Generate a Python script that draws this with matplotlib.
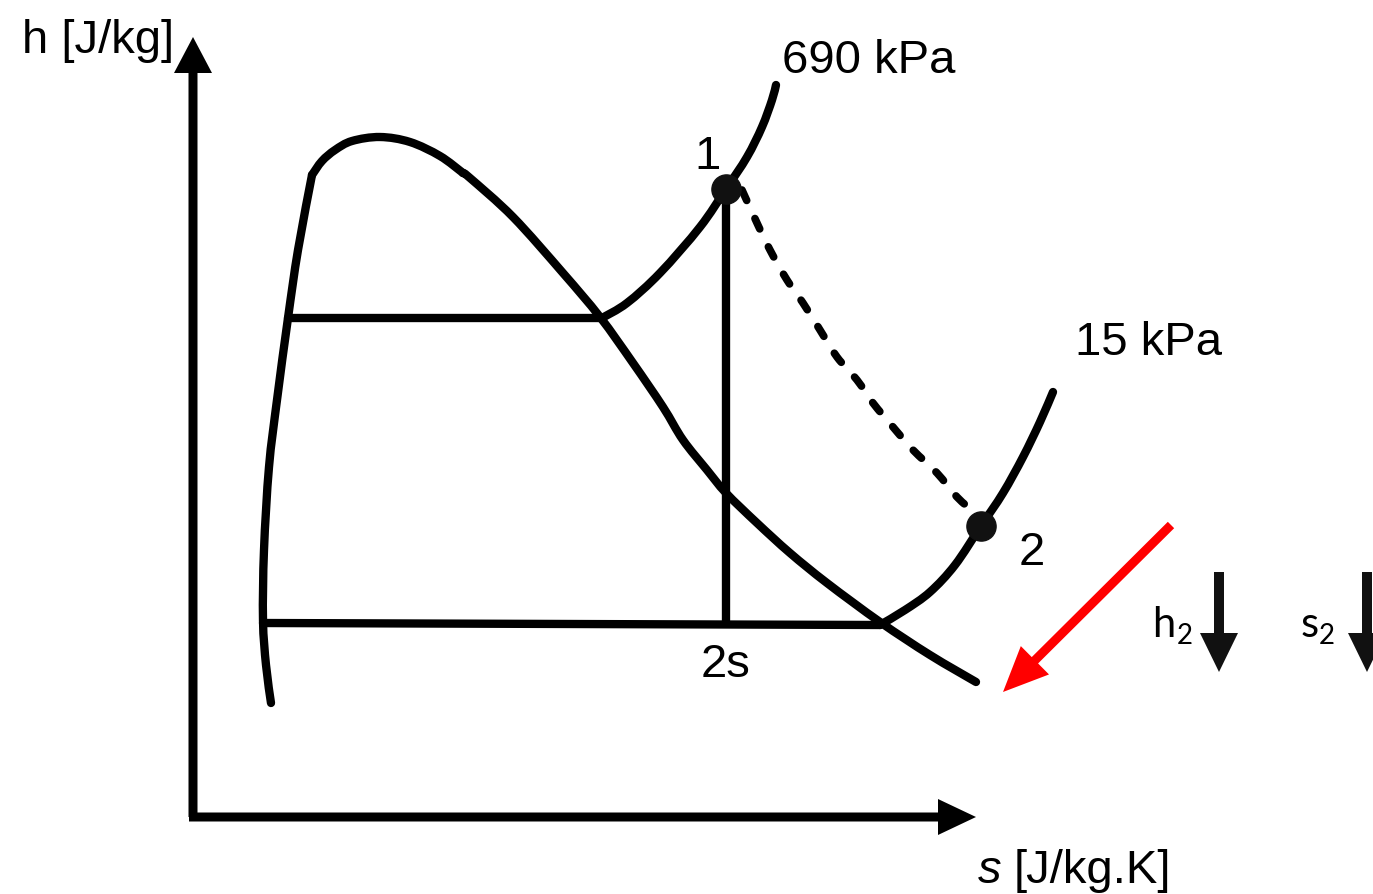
import matplotlib
matplotlib.use('Agg')
import matplotlib.pyplot as plt
import numpy as np
from matplotlib.path import Path
from matplotlib.patches import PathPatch

# h-s diagram, schematic, coordinates (pixel space, y downwards)
dome_left_s = [271, 266, 263, 264, 269, 277, 288, 298, 312]
dome_left_h = [703, 665, 620, 550, 467, 400, 318, 250, 175]
dome_top_s = [312, 322, 335, 352, 380, 410, 440, 463]
dome_top_h = [175, 161, 150, 141, 137, 142, 156, 173]
dome_right_s = [463, 470, 513, 563, 600, 633, 663, 683, 707, 726, 757, 790, 827, 880, 930, 976]
dome_right_h = [173, 178, 217, 273, 317, 363, 407, 440, 470, 493, 523, 553, 583, 622, 655, 682]

# 690 kPa: wet part then superheated part
hi_wet_s = [288, 602]
hi_wet_h = [318, 318]
hi_sup_s = [602, 627, 660, 700, 726, 747, 762, 772, 776]
hi_sup_h = [318, 303, 273, 227, 189, 157, 127, 100, 85]
# 15 kPa
lo_wet_s = [263, 880]
lo_wet_h = [623, 625]
lo_sup_s = [880, 905, 930, 955, 981, 1003, 1023, 1040, 1053]
lo_sup_h = [625, 610, 592, 565, 526, 493, 457, 422, 392]

isen_s = [726, 726]
isen_h = [189, 622]
real_s = [742, 757, 770, 787, 803, 820, 837, 857, 873, 893, 913, 937, 957, 975]
real_h = [190, 223, 250, 280, 303, 330, 357, 380, 403, 427, 450, 473, 497, 513]

state_s = [726, 981]
state_h = [189, 526]


def smooth(xs, ys):
    # catmull-rom through the points, drawn as bezier
    p = np.column_stack([xs, ys]).astype(float)
    verts = [p[0]]
    codes = [Path.MOVETO]
    n = len(p)
    for i in range(n - 1):
        p0 = p[i - 1] if i > 0 else p[i]
        p3 = p[i + 2] if i + 2 < n else p[i + 1]
        verts += [p[i] + (p[i + 1] - p0) / 6, p[i + 1] - (p3 - p[i]) / 6, p[i + 1]]
        codes += [Path.CURVE4] * 3
    return Path(verts, codes)


fig = plt.figure(figsize=(13.73, 8.94), dpi=100)
ax = fig.add_axes([0, 0, 1, 1])
ax.set_xlim(0, 1373)
ax.set_ylim(894, 0)
ax.axis('off')

lw = 6
for xs, ys in [(dome_left_s, dome_left_h), (dome_top_s, dome_top_h),
               (dome_right_s, dome_right_h), (hi_sup_s, hi_sup_h), (lo_sup_s, lo_sup_h)]:
    ax.add_patch(PathPatch(smooth(xs, ys), fill=False, ec='black', lw=lw,
                           capstyle='round', joinstyle='round'))
for xs, ys in [(hi_wet_s, hi_wet_h), (lo_wet_s, lo_wet_h), (isen_s, isen_h)]:
    ax.plot(xs, ys, color='black', lw=lw, solid_capstyle='round')

ax.add_patch(PathPatch(smooth(real_s, real_h), fill=False, ec='black', lw=5.5,
                       ls=(0, (1.5, 2.6)), capstyle='round'))
ax.plot(state_s, state_h, 'o', color='#111111', ms=21, zorder=5)

# axes arrows
ax.arrow(193, 817, 0, -780, width=9, head_width=38, head_length=36,
         length_includes_head=True, fc='black', ec='none')
ax.arrow(189, 817, 787, 0, width=9, head_width=36, head_length=38,
         length_includes_head=True, fc='black', ec='none')
# red arrow
ax.arrow(1171, 525, -168, 167, width=9, head_width=40, head_length=45,
         length_includes_head=True, fc='#ff0000', ec='none')
# h2, s2 arrows
for x in [1219, 1367]:
    ax.arrow(x, 572, 0, 100, width=10, head_width=38, head_length=39,
             length_includes_head=True, fc='#111111', ec='none')

font = 'Liberation Sans'
ax.text(22, 53, 'h [J/kg]', fontsize=34, family=font, va='baseline')
ax.text(782, 73, '690 kPa', fontsize=34, family=font, va='baseline')
ax.text(1075, 355, '15 kPa', fontsize=34, family=font, va='baseline')
ax.text(708, 169, '1', fontsize=34, family=font, va='baseline', ha='center')
ax.text(1032, 565, '2', fontsize=34, family=font, va='baseline', ha='center')
ax.text(726, 677, '2s', fontsize=34, family=font, va='baseline', ha='center')
ax.text(978, 883, 's', fontsize=34, family=font, style='italic', va='baseline')
ax.text(1014, 883, '[J/kg.K]', fontsize=34, family=font, va='baseline')

ax.text(1152, 637, 'h', fontsize=30, family='Lato', va='baseline')
ax.text(1177, 644, '2', fontsize=20, family='Lato', va='baseline')
ax.text(1301, 637, 's', fontsize=30, family='Lato', va='baseline')
ax.text(1319, 644, '2', fontsize=20, family='Lato', va='baseline')

fig.savefig('out.png', dpi=100)
